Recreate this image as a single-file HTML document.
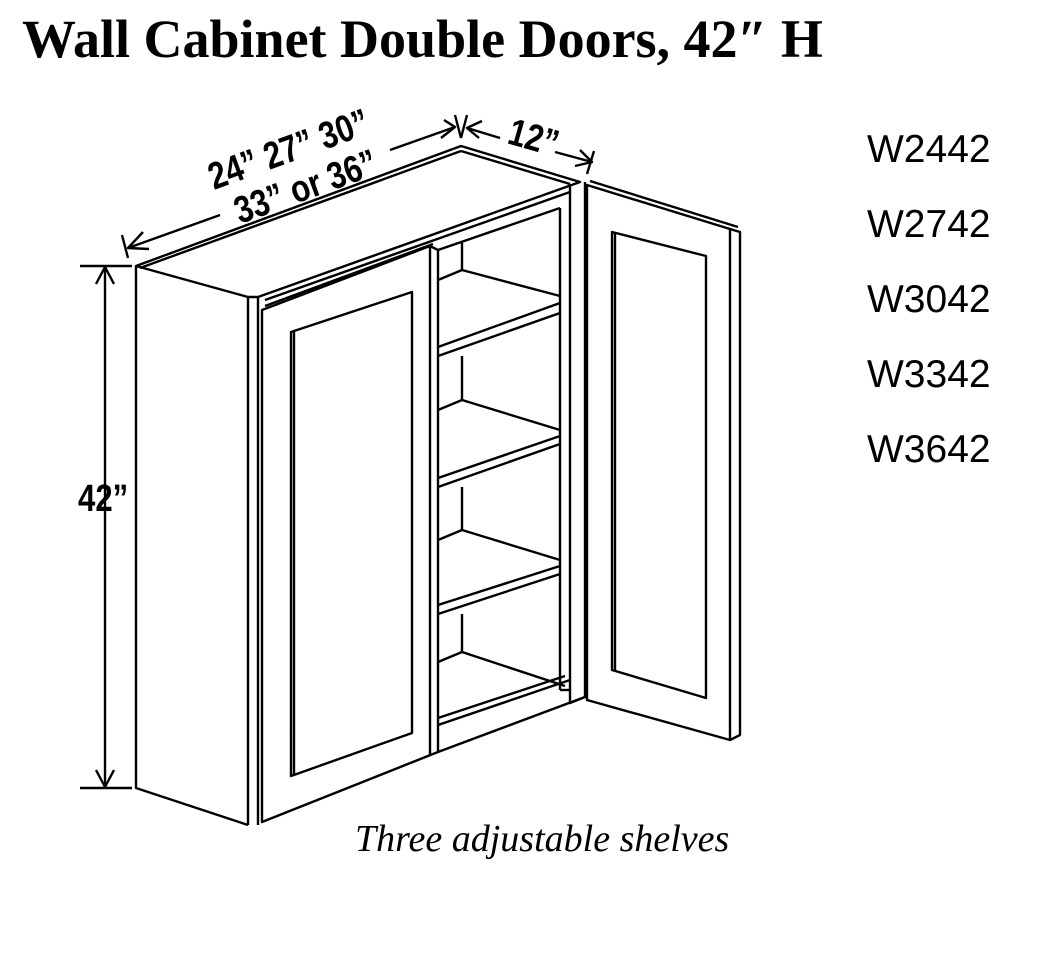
<!DOCTYPE html>
<html><head><meta charset="utf-8"><style>
html,body{margin:0;padding:0;background:#fff;}
body{width:1050px;height:963px;overflow:hidden;}
</style></head><body>
<svg width="1050" height="963" viewBox="0 0 1050 963" xmlns="http://www.w3.org/2000/svg">
<text x="22" y="57" font-family="Liberation Serif, serif" font-weight="bold" font-size="54">Wall Cabinet Double Doors, 42″ H</text>
<g font-family="Liberation Sans, sans-serif" font-size="39">
<text x="867" y="162">W2442</text>
<text x="867" y="237">W2742</text>
<text x="867" y="312">W3042</text>
<text x="867" y="387">W3342</text>
<text x="867" y="462">W3642</text>
</g>
<text x="355" y="851" font-family="Liberation Serif, serif" font-style="italic" font-size="38">Three adjustable shelves</text>

<g fill="none" stroke="#000" stroke-width="2.4" stroke-linejoin="round">
<line x1="105" y1="266" x2="105" y2="788"/>
<line x1="80" y1="266" x2="132" y2="266"/>
<line x1="80" y1="788" x2="132" y2="788"/>
<polyline points="96,284 105,267 114,284"/>
<polyline points="96,770 105,787 114,770"/>
<line x1="128" y1="248" x2="220" y2="215"/>
<line x1="390" y1="150" x2="455" y2="127"/>
<polyline points="143,232 128,248 149,249"/>
<polyline points="444,120 455,127 441,138"/>
<line x1="122" y1="235" x2="128" y2="258"/>
<line x1="455" y1="115" x2="461" y2="138"/>
<line x1="467" y1="115" x2="461" y2="138"/>
<line x1="467" y1="128" x2="500" y2="138"/>
<line x1="555" y1="152" x2="592" y2="162"/>
<polyline points="482,121 467,128 479,138"/>
<polyline points="580,150 592,162 575,166"/>
<line x1="594" y1="151" x2="587" y2="174"/>

<polyline points="136,266 136,788 248,825"/>
<line x1="248" y1="297" x2="248" y2="825"/>
<polygon points="136,266 461,146 580,182 258,297 248,297"/>
<line x1="140" y1="268" x2="461" y2="151"/>
<line x1="461" y1="151" x2="570" y2="184"/>
<line x1="258" y1="297" x2="258" y2="825"/>
<line x1="265" y1="300" x2="570" y2="192"/>
<line x1="438" y1="250" x2="560" y2="208"/>
<polyline points="570,184 570,703 585,697 585,182"/>
<line x1="560" y1="208" x2="560" y2="690"/>
<line x1="560" y1="690" x2="570" y2="690"/>
<polygon points="262,310 430,246 438,250 438,752 262,822"/>
<line x1="430" y1="246" x2="430" y2="755"/>
<line x1="265" y1="306" x2="433" y2="244"/>
<polygon points="291,332 412,292 412,733 291,776"/>
<line x1="294" y1="332" x2="294" y2="774"/>
<line x1="438" y1="752" x2="585" y2="697"/>
<line x1="438" y1="725" x2="570" y2="680"/>
<line x1="462" y1="243" x2="462" y2="270"/>
<polyline points="438,280 462,270 560,296"/>
<line x1="438" y1="347" x2="560" y2="303"/>
<line x1="438" y1="356" x2="560" y2="313"/>
<line x1="462" y1="356" x2="462" y2="400"/>
<polyline points="438,410 462,400 560,430"/>
<line x1="438" y1="478" x2="560" y2="436"/>
<line x1="438" y1="487" x2="560" y2="444"/>
<line x1="462" y1="487" x2="462" y2="530"/>
<polyline points="438,540 462,530 560,560"/>
<line x1="438" y1="605" x2="560" y2="566"/>
<line x1="438" y1="614" x2="560" y2="574"/>
<line x1="462" y1="614" x2="462" y2="652"/>
<polyline points="438,662 462,652 565,686"/>
<line x1="438" y1="718" x2="565" y2="676"/>
<polygon points="587,185 730,229 740,232 740,735 730,740 587,700"/>
<line x1="730" y1="229" x2="730" y2="740"/>
<line x1="590" y1="181" x2="738" y2="227"/>
<polygon points="612,232 706,256 706,698 612,670"/>
<line x1="615" y1="233" x2="615" y2="670"/>
</g>
<g font-family="Liberation Sans, sans-serif" font-weight="bold" font-size="38">
<text transform="translate(78,511) scale(0.82,1)">42”</text>
<text transform="translate(214,190) rotate(-20) scale(0.82,1)">24” 27” 30”</text>
<text transform="translate(240,224) rotate(-20) scale(0.82,1)">33” or 36”</text>
<text transform="translate(506,143) rotate(16) scale(0.82,1)">12”</text>
</g>
</svg>
</body></html>
